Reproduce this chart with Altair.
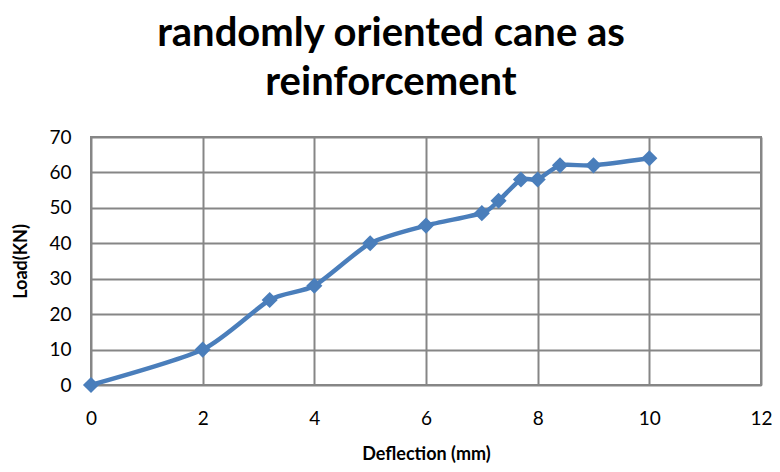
import altair as alt
import pandas as pd

deflection = [0, 2, 3.2, 4, 5, 6, 7, 7.3, 7.7, 8, 8.4, 9, 10]
load = [0, 10, 24, 28, 40, 45, 48.5, 52, 58, 58, 62, 62, 64]

df = pd.DataFrame({"Deflection": deflection, "Load": load})

FONT = "Lato"
BLUE = "#4A7EBB"
GRID = "#868686"

base = alt.Chart(df).encode(
    x=alt.X("Deflection:Q",
            scale=alt.Scale(domain=[0, 12], nice=False),
            axis=alt.Axis(title="Deflection (mm)", values=[0, 2, 4, 6, 8, 10, 12],
                          grid=True, gridColor=GRID, gridWidth=2, ticks=False,
                          domain=False, labelPadding=24, labelFontSize=19,
                          labelFlush=False,
                          titleFontSize=18, titleFontWeight="bold", titlePadding=17,
                          labelFont=FONT, titleFont=FONT, labelColor="#000",
                          titleColor="#000")),
    y=alt.Y("Load:Q",
            scale=alt.Scale(domain=[0, 70], nice=False),
            axis=alt.Axis(title="Load(KN)", values=[0, 10, 20, 30, 40, 50, 60, 70],
                          grid=True, gridColor=GRID, gridWidth=2, ticks=False,
                          domain=False, labelPadding=20, labelFontSize=19,
                          titleFontSize=18, titleFontWeight="bold", titlePadding=18,
                          labelFont=FONT, titleFont=FONT, labelColor="#000",
                          titleColor="#000")),
)

line = base.mark_line(color=BLUE, strokeWidth=4.5, interpolate="cardinal", tension=0.3)
pts = base.mark_point(shape="diamond", filled=True, color=BLUE, size=260, opacity=1)

chart = (line + pts).properties(
    width=670, height=248,
    autosize=alt.AutoSizeParams(type="none"),
    padding={"left": 83, "top": 129, "right": 11, "bottom": 79},
    title=alt.TitleParams(
        text=["randomly oriented cane as", "reinforcement"],
        font=FONT, fontSize=40, fontWeight="bold", color="#000",
        anchor="middle", dx=-35, offset=25, lineHeight=49,
    ),
).configure_view(stroke=GRID, strokeWidth=2)

chart.save("out.html", embed_options={"renderer": "svg", "actions": False})
